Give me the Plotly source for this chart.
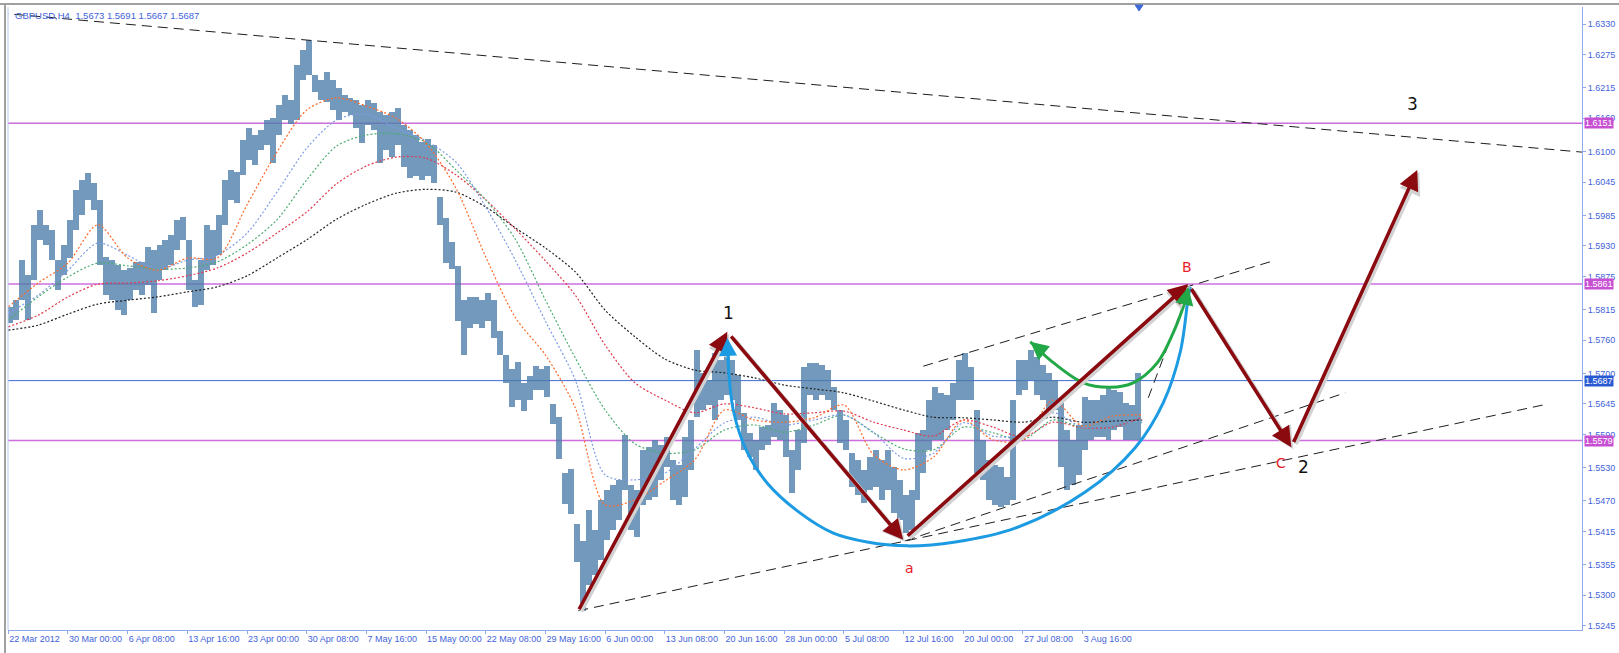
import plotly.graph_objects as go

# ---------------- data ----------------
# H4 bars grouped by 3 (column start bar index), highs / lows
bar_idx = list(range(0, 570, 3))
bar_high = [1.5820,1.5832,1.5905,1.5877,1.5968,1.5995,1.5968,1.5959,1.5905,1.5932,
1.5977,1.6031,1.6049,1.6061,1.6043,1.6013,1.5910,1.5905,1.5896,1.5886,
1.5890,1.5901,1.5901,1.5928,1.5923,1.5932,1.5941,1.5950,1.5977,1.5982,
1.5941,1.5868,1.5905,1.5968,1.5959,1.5986,1.6049,1.6067,1.6063,1.6121,
1.6143,1.6130,1.6139,1.6157,1.6161,1.6184,1.6202,1.6193,1.6256,1.6283,
1.6301,1.6238,1.6229,1.6243,1.6229,1.6215,1.6202,1.6197,1.6193,1.6184,
1.6193,1.6188,1.6171,1.6166,1.6171,1.6179,1.6148,1.6139,1.6130,1.6117,
1.6123,1.6112,1.6018,1.5980,1.5937,1.5894,1.5832,1.5838,1.5838,1.5832,
1.5845,1.5832,1.5777,1.5733,1.5708,1.5721,1.5683,1.5695,1.5713,1.5708,
1.5713,1.5645,1.5621,1.5520,1.5528,1.5429,1.5398,1.5454,1.5418,1.5472,
1.5490,1.5499,1.5508,1.5589,1.5499,1.5490,1.5562,1.5567,1.5580,1.5571,
1.5585,1.5544,1.5535,1.5585,1.5616,1.5742,1.5701,1.5688,1.5737,1.5724,
1.5730,1.5724,1.5697,1.5629,1.5593,1.5580,1.5603,1.5607,1.5647,1.5634,
1.5625,1.5562,1.5598,1.5712,1.5719,1.5719,1.5715,1.5706,1.5675,1.5634,
1.5616,1.5556,1.5544,1.5526,1.5549,1.5562,1.5544,1.5562,1.5531,1.5508,
1.5481,1.5490,1.5593,1.5598,1.5652,1.5675,1.5665,1.5661,1.5683,1.5724,
1.5737,1.5712,1.5634,1.5580,1.5544,1.5535,1.5531,1.5513,1.5652,1.5724,
1.5724,1.5742,1.5730,1.5715,1.5701,1.5688,1.5652,1.5598,1.5580,1.5607,
1.5658,1.5652,1.5652,1.5661,1.5675,1.5670,1.5666,1.5647,1.5643,1.5701]
bar_low = [1.5791,1.5796,1.5832,1.5796,1.5868,1.5941,1.5932,1.5905,1.5850,1.5877,
1.5908,1.5959,1.5986,1.6013,1.5995,1.5896,1.5841,1.5832,1.5814,1.5805,
1.5832,1.5850,1.5841,1.5859,1.5809,1.5868,1.5886,1.5896,1.5923,1.5941,
1.5850,1.5820,1.5823,1.5886,1.5896,1.5913,1.5968,1.6013,1.6007,1.6058,
1.6085,1.6076,1.6103,1.6112,1.6079,1.6130,1.6157,1.6150,1.6157,1.6229,
1.6238,1.6207,1.6193,1.6189,1.6175,1.6157,1.6171,1.6166,1.6143,1.6115,
1.6148,1.6139,1.6079,1.6103,1.6090,1.6112,1.6072,1.6052,1.6056,1.6049,
1.6056,1.6043,1.5968,1.5899,1.5888,1.5795,1.5733,1.5782,1.5789,1.5782,
1.5795,1.5764,1.5733,1.5683,1.5639,1.5652,1.5632,1.5652,1.5670,1.5670,
1.5658,1.5609,1.5546,1.5465,1.5447,1.5360,1.5272,1.5319,1.5337,1.5364,
1.5400,1.5418,1.5436,1.5490,1.5418,1.5405,1.5463,1.5472,1.5477,1.5508,
1.5531,1.5472,1.5463,1.5477,1.5526,1.5621,1.5634,1.5643,1.5616,1.5652,
1.5661,1.5652,1.5616,1.5562,1.5549,1.5526,1.5562,1.5571,1.5585,1.5580,
1.5549,1.5484,1.5526,1.5574,1.5661,1.5652,1.5661,1.5652,1.5634,1.5574,
1.5562,1.5495,1.5481,1.5466,1.5490,1.5495,1.5472,1.5490,1.5448,1.5436,
1.5412,1.5418,1.5472,1.5520,1.5562,1.5580,1.5580,1.5598,1.5616,1.5652,
1.5652,1.5652,1.5520,1.5508,1.5472,1.5463,1.5459,1.5463,1.5472,1.5661,
1.5670,1.5688,1.5661,1.5652,1.5634,1.5634,1.5531,1.5490,1.5499,1.5517,
1.5562,1.5580,1.5585,1.5585,1.5580,1.5598,1.5603,1.5580,1.5580,1.5580]

# moving averages sampled every 15 bars
ma_idx = list(range(0, 571, 15))
ma_orange = [1.5820,1.5863,1.5899,1.5968,1.5908,1.5886,1.5908,1.5908,1.6004,1.6099,
1.6175,1.6197,1.6182,1.6160,1.6115,1.6034,1.5910,1.5800,1.5733,1.5638,
1.5463,1.5472,1.5506,1.5544,1.5634,1.5616,1.5612,1.5620,1.5643,1.5553,
1.5526,1.5549,1.5616,1.5580,1.5580,1.5652,1.5605,1.5623,1.5625]
ma_blue = [1.5809,1.5841,1.5886,1.5935,1.5913,1.5888,1.5904,1.5913,1.5953,1.6027,
1.6106,1.6157,1.6168,1.6142,1.6119,1.6081,1.6000,1.5903,1.5794,1.5688,
1.5517,1.5508,1.5520,1.5564,1.5611,1.5621,1.5607,1.5616,1.5625,1.5593,
1.5547,1.5556,1.5611,1.5587,1.5589,1.5629,1.5603,1.5611,1.5612]
ma_green = [1.5796,1.5838,1.5874,1.5899,1.5894,1.5888,1.5890,1.5901,1.5932,1.5977,
1.6049,1.6110,1.6130,1.6132,1.6117,1.6067,1.6013,1.5941,1.5832,1.5728,
1.5634,1.5573,1.5556,1.5562,1.5598,1.5607,1.5594,1.5607,1.5625,1.5593,
1.5564,1.5562,1.5603,1.5593,1.5580,1.5616,1.5603,1.5611,1.5611]
ma_red = [1.5784,1.5805,1.5838,1.5861,1.5863,1.5867,1.5876,1.5890,1.5917,1.5953,
1.5991,1.6042,1.6074,1.6090,1.6088,1.6058,1.6013,1.5960,1.5903,1.5841,
1.5751,1.5683,1.5652,1.5629,1.5645,1.5638,1.5627,1.5629,1.5632,1.5612,
1.5598,1.5587,1.5616,1.5603,1.5585,1.5612,1.5602,1.5603,1.5621]
ma_black = [1.5778,1.5787,1.5807,1.5825,1.5832,1.5838,1.5847,1.5856,1.5876,1.5908,
1.5941,1.5978,1.6005,1.6025,1.6032,1.6027,1.6000,1.5962,1.5926,1.5883,
1.5814,1.5766,1.5726,1.5706,1.5701,1.5692,1.5679,1.5672,1.5665,1.5650,
1.5634,1.5621,1.5620,1.5616,1.5612,1.5621,1.5612,1.5614,1.5616]

# x axis labels (every 30 bars)
x_tick_idx = list(range(0, 541, 30))
x_tick_text = ["22 Mar 2012", "30 Mar 00:00", "6 Apr 08:00", "13 Apr 16:00", "23 Apr 00:00",
               "30 Apr 08:00", "7 May 16:00", "15 May 00:00", "22 May 08:00", "29 May 16:00",
               "6 Jun 00:00", "13 Jun 08:00", "20 Jun 16:00", "28 Jun 00:00", "5 Jul 08:00",
               "12 Jul 16:00", "20 Jul 00:00", "27 Jul 08:00", "3 Aug 16:00"]
y_ticks = [1.6330, 1.6275, 1.6215, 1.6160, 1.6100, 1.6045, 1.5985, 1.5930, 1.5875, 1.5815,
           1.5760, 1.5700, 1.5645, 1.5590, 1.5530, 1.5470, 1.5415, 1.5355, 1.5300, 1.5245]

levels = [1.6151, 1.5861, 1.5579]
current_price = 1.5687
title_text = "GBPUSD,H4  1.5673 1.5691 1.5667 1.5687"

# trend lines: (start idx, end idx), (start price, end price)
trend_top = ([-5, 791], [1.6350, 1.6099])
trend_channel = ([459.9, 636.8], [1.5713, 1.5904])
trend_a = ([450.8, 672.0], [1.5398, 1.5665])
trend_low = ([286.5, 774.0], [1.5272, 1.5645])
trend_short = ([573.0, 588.1], [1.5656, 1.5800])

# wave points 0-1-a-B-C-3
wave_i = [286.5, 361.4, 449.8, 593.1, 644.9, 708.2]
wave_p = [1.5272, 1.5775, 1.5400, 1.5861, 1.5567, 1.6067]

# blue arc and green arc
arc_blue_i = [361.4, 364.4, 371.4, 381.5, 398.1, 414.7, 431.7, 451.8, 476.0, 506.1, 541.3, 566.4, 580.5, 589.1, 593.1, 594.1]
arc_blue_p = [1.5751, 1.5634, 1.5558, 1.5502, 1.5448, 1.5412, 1.5396, 1.5389, 1.5396, 1.5421, 1.5486, 1.5566, 1.5647, 1.5739, 1.5838, 1.5856]
arc_green_i = [513.7, 523.7, 540.3, 553.9, 565.4, 577.5, 585.5, 590.6, 593.1]
arc_green_p = [1.5757, 1.5724, 1.5683, 1.5675, 1.5683, 1.5719, 1.5773, 1.5820, 1.5850]

labels_black = [("1", 361.9, 1.5809), ("2", 650.9, 1.5531), ("3", 705.7, 1.6186)]
labels_red = [("a", 452.9, 1.5349), ("B", 592.6, 1.5892), ("C", 639.8, 1.5538)]

# ---------------- figure ----------------
AXIS_BLUE = "#3F63D8"
FONT = "Liberation Sans"
fig = go.Figure()

# price bars: each column drawn as a hatched range (dense thin H4 bars look)
fig.add_trace(go.Bar(
    x=[i + 1 for i in bar_idx], y=[h - l for h, l in zip(bar_high, bar_low)], base=bar_low,
    width=3.0,
    marker=dict(color="rgba(255,255,255,0)", line=dict(width=0),
                pattern=dict(shape="|", size=2, solidity=0.6, fgcolor="#336A9A",
                             bgcolor="rgba(150,185,215,0.45)", fillmode="replace")),
    hoverinfo="skip", showlegend=False))

# moving averages
for vals, col in [(ma_black, "#222222"), (ma_red, "#E03A4E"), (ma_green, "#4DAA70"),
                  (ma_blue, "#7E9BE6"), (ma_orange, "#FF6A2A")]:
    fig.add_trace(go.Scatter(x=ma_idx, y=vals, mode="lines",
                             line=dict(color=col, width=1.2, dash="2px,2px", shape="spline", smoothing=0.8),
                             hoverinfo="skip", showlegend=False))

# dashed trendlines
for tx, tp in [trend_top, trend_channel, trend_a, trend_low, trend_short]:
    fig.add_trace(go.Scatter(x=tx, y=tp, mode="lines", line=dict(color="#1E1E1E", width=1, dash="10px,6px"),
                             hoverinfo="skip", showlegend=False))

# arcs
fig.add_trace(go.Scatter(x=arc_blue_i, y=arc_blue_p, mode="lines",
                         line=dict(color="#1C9BE2", width=3, shape="spline", smoothing=1.0),
                         hoverinfo="skip", showlegend=False))
fig.add_trace(go.Scatter(x=arc_green_i, y=arc_green_p, mode="lines",
                         line=dict(color="#22A846", width=3, shape="spline", smoothing=1.0),
                         hoverinfo="skip", showlegend=False))

shapes = []
for lv in levels:
    shapes.append(dict(type="line", xref="paper", x0=0, x1=1, yref="y", y0=lv, y1=lv,
                       line=dict(color="#CC6EDC", width=1.5), layer="below"))
shapes.append(dict(type="line", xref="paper", x0=0, x1=1, yref="y", y0=current_price, y1=current_price,
                   line=dict(color="#3F6AD6", width=1), layer="below"))
# window frame
shapes.append(dict(type="line", xref="paper", yref="paper", x0=-0.006, x1=1.03, y0=1.0048, y1=1.0048,
                   line=dict(color="#A0A0A0", width=2)))
shapes.append(dict(type="line", xref="paper", yref="paper", x0=-0.0019, x1=-0.0019, y0=1.0048, y1=-0.04,
                   line=dict(color="#A0A0A0", width=2)))
shapes.append(dict(type="line", xref="paper", yref="paper", x0=0, x1=0, y0=1, y1=0,
                   line=dict(color="#B8C8EE", width=1)))
# chart shift marker
shapes.append(dict(type="path", xref="paper", yref="paper",
                   path="M 0.7161,1.0032 L 0.7211,1.0032 L 0.7186,0.9936 Z",
                   fillcolor="#3F6AD6", line=dict(color="#3F6AD6", width=1)))

annotations = []
# arrows: shadows then red
for k in range(5):
    annotations.append(dict(x=wave_i[k + 1], y=wave_p[k + 1], ax=wave_i[k], ay=wave_p[k],
                            xref="x", yref="y", axref="x", ayref="y", text="", showarrow=True,
                            arrowhead=2, arrowsize=1.0, arrowwidth=4.5, arrowcolor="#D2D2D2",
                            xshift=2, yshift=-2, startstandoff=4 if k else 0))
for k in range(5):
    annotations.append(dict(x=wave_i[k + 1], y=wave_p[k + 1], ax=wave_i[k], ay=wave_p[k],
                            xref="x", yref="y", axref="x", ayref="y", text="", showarrow=True,
                            arrowhead=2, arrowsize=1.15, arrowwidth=3.5, arrowcolor="#8B0A10",
                            startstandoff=4 if k else 0))
# arc arrow heads
annotations.append(dict(x=361.4, y=1.5764, ax=361.9, ay=1.5721, xref="x", yref="y", axref="x", ayref="y",
                        text="", showarrow=True, arrowhead=2, arrowsize=1.2, arrowwidth=3, arrowcolor="#1C9BE2"))
annotations.append(dict(x=513.7, y=1.5757, ax=521.2, ay=1.5735, xref="x", yref="y", axref="x", ayref="y",
                        text="", showarrow=True, arrowhead=2, arrowsize=1.2, arrowwidth=3, arrowcolor="#22A846"))
annotations.append(dict(x=593.1, y=1.5856, ax=591.1, ay=1.5823, xref="x", yref="y", axref="x", ayref="y",
                        text="", showarrow=True, arrowhead=2, arrowsize=1.2, arrowwidth=3, arrowcolor="#22A846"))

for t, xi, p in labels_black:
    annotations.append(dict(x=xi, y=p, xref="x", yref="y", text=t, showarrow=False,
                            font=dict(family="DejaVu Sans", size=17, color="#111111")))
for t, xi, p in labels_red:
    annotations.append(dict(x=xi, y=p, xref="x", yref="y", text=t, showarrow=False,
                            font=dict(family="DejaVu Sans", size=14, color="#E8202A")))

# price boxes on the axis
for lv in levels:
    annotations.append(dict(x=1.0013, y=lv, xref="paper", yref="y", xanchor="left", yanchor="middle",
                            text=f"{lv:.4f}", showarrow=False, bgcolor="#C64FD2", borderpad=0,
                            font=dict(family=FONT, size=9, color="white")))
annotations.append(dict(x=1.0013, y=current_price, xref="paper", yref="y", xanchor="left", yanchor="middle",
                        text=f"{current_price:.4f}", showarrow=False, bgcolor="#2A5AD2", borderpad=0,
                        font=dict(family=FONT, size=9, color="white")))
# title
annotations.append(dict(x=0.003, y=1 - (15 - 7) / 623, xref="paper", yref="paper", text=title_text,
                        showarrow=False, xanchor="left", yanchor="middle",
                        font=dict(family=FONT, size=9.5, color=AXIS_BLUE)))

fig.update_layout(
    width=1619, height=653,
    margin=dict(l=8, r=37, t=7, b=23, autoexpand=False),
    paper_bgcolor="white", plot_bgcolor="white",
    showlegend=False, bargap=0,
    shapes=shapes, annotations=annotations,
    xaxis=dict(range=[-0.15, 791.0], tickvals=x_tick_idx, ticktext=x_tick_text, tickangle=0,
               automargin=False,
               showgrid=False, zeroline=False, showline=True, linecolor="#8FAAE8", linewidth=1,
               ticks="outside", ticklen=3, tickcolor="#8FAAE8", ticklabelposition="outside right",
               tickfont=dict(family=FONT, size=9, color=AXIS_BLUE), fixedrange=True),
    yaxis=dict(range=[1.52373, 1.63607], side="right", tickvals=y_ticks,
               ticktext=[f"{v:.4f}" for v in y_ticks], automargin=False,
               showgrid=False, zeroline=False, showline=True, linecolor="#8FAAE8", linewidth=1,
               ticks="outside", ticklen=3, tickcolor="#8FAAE8",
               tickfont=dict(family=FONT, size=9, color=AXIS_BLUE), fixedrange=True),
)

fig.write_html("out.html", config={"displayModeBar": False},
               post_script="document.body.style.margin='0';document.body.style.padding='0';")
